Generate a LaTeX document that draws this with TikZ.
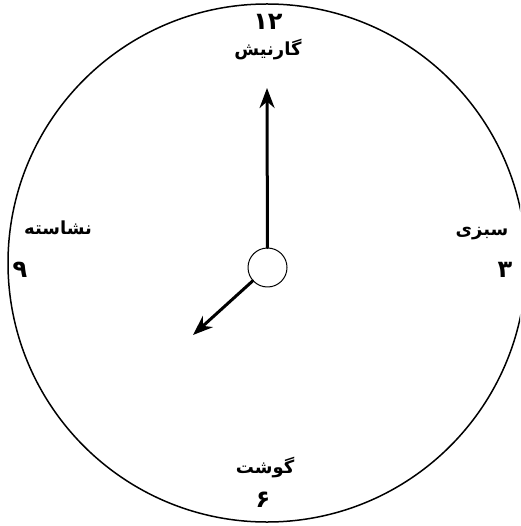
\documentclass[tikz,border=0pt]{standalone}
\usepackage{fontspec}
\usetikzlibrary{arrows.meta}
\TeXXeTstate=1
\newfontfamily\arabicfont[Script=Arabic]{DejaVu Sans}
\tikzset{
  every picture/.style={
    line join=round,
    line cap=round,
    >=Stealth,
  },
  lbl/.style={font=\arabicfont\bfseries\fontsize{18}{21}\selectfont, inner sep=0pt},
  num/.style={font=\arabicfont\bfseries\fontsize{24}{28}\selectfont, inner sep=0pt},
  hand/.style={->, line width=3pt, >={Stealth[length=20pt,width=15pt]}},
}
\begin{document}
\begin{tikzpicture}[x=1pt,y=-1pt]
\useasboundingbox (0,0) rectangle (520,526);
\clip (0,0) rectangle (520,526);
% dial
\draw[line width=1.5pt] (267,263) circle (259);
\node[circle,draw,line width=1pt,minimum size=39pt,inner sep=0pt] (hub) at (267.5,267.5) {};
% hands
\coordinate (mtip) at (267,88);
\coordinate (htip) at (193,335);
\draw[hand] (hub) -- (mtip);
\draw[hand] (hub) -- (htip);
% labels
\node[num] (n12) at (268,22) {۱۲};
\node[lbl] (top) at (268,50) {\beginR گارنیش\endR};
\node[lbl] (left) at (58,228) {\beginR نشاسته\endR};
\node[num] (n9) at (20,270) {۹};
\node[lbl] (right) at (482,234) {\beginR سبزی\endR};
\node[num] (n3) at (505,270) {۳};
\node[lbl] (bottom) at (265,468) {\beginR گوشت\endR};
\node[num] (n6) at (263,500) {۶};
\end{tikzpicture}
\end{document}
